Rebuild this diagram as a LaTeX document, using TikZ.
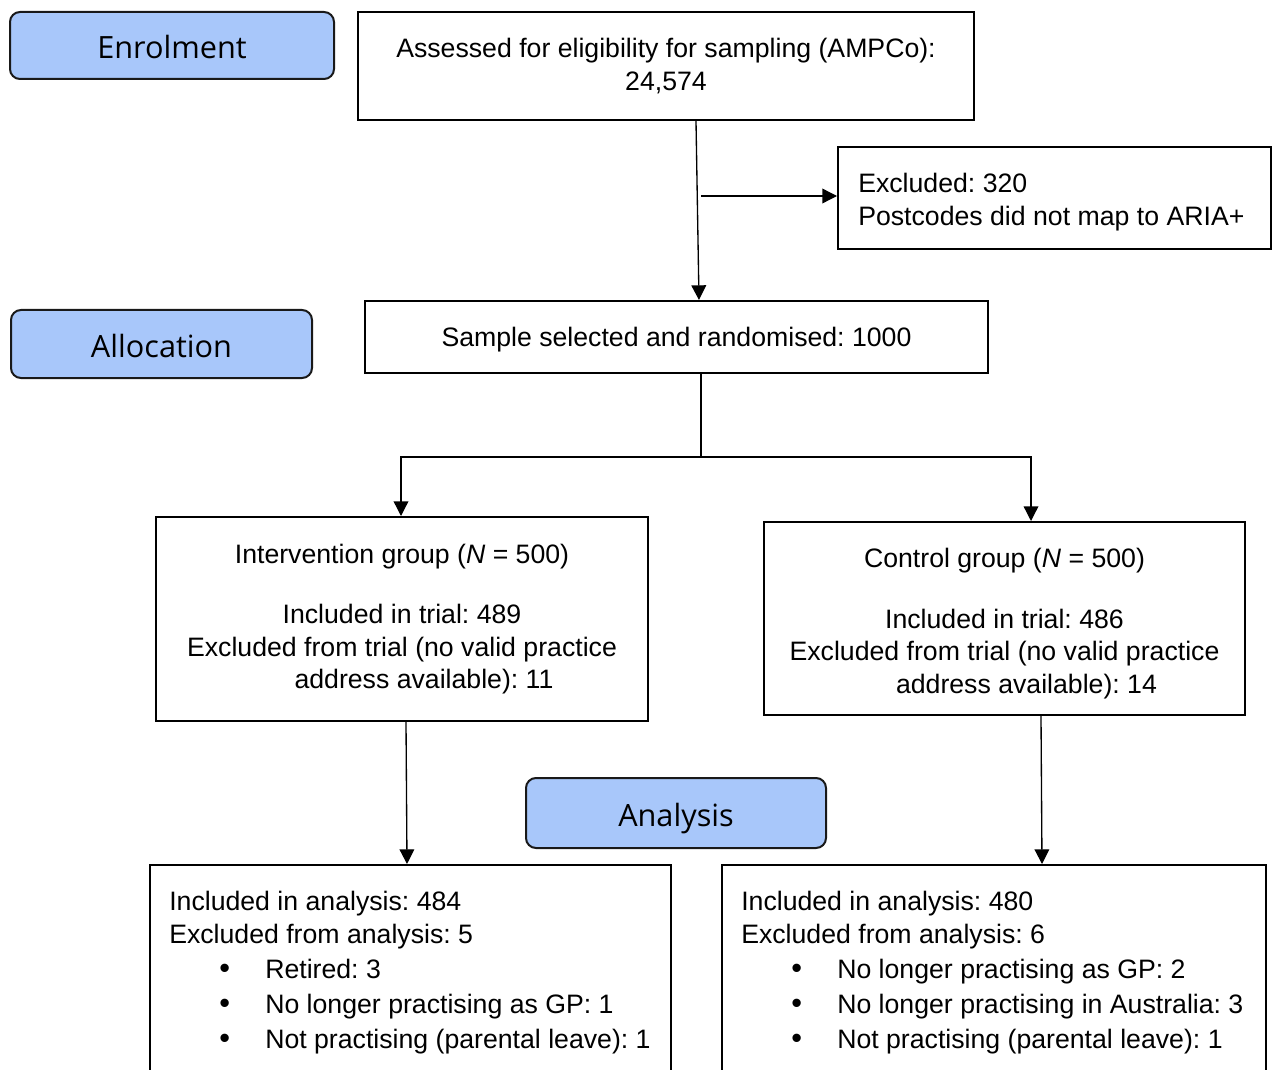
\documentclass[tikz,border=0pt]{standalone}
\usepackage{fontspec}
\setmainfont{Liberation Sans}
\newfontfamily\labelfont{Open Sans}
\usetikzlibrary{calc,arrows.meta}
\definecolor{lblue}{RGB}{168,199,250}
\newcommand{\blt}{\hspace*{37.5pt}\makebox[34.5pt][l]{\fontsize{23}{20}\selectfont •}}
\begin{document}
\frenchspacing
\begin{tikzpicture}[x=0.75pt,y=-0.75pt,
  box/.style={draw=black,line width=1.5pt,inner sep=0pt,align=center,font=\fontsize{20}{24.4}\selectfont},
  phase/.style={draw=black!90,line width=1.5pt,fill=lblue,rounded corners=7.5pt,font=\labelfont\fontsize{23}{28}\selectfont,inner sep=0pt,text height=20.2pt,text depth=0pt},
  txt/.style={inner sep=0pt,align=left,font=\fontsize{20}{24.75}\selectfont},
  arr/.style={line width=1pt,-{Triangle[length=11pt,width=11pt]}},
  conn/.style={line width=1pt}]
\useasboundingbox (0,0) rectangle (1272,1070);
\clip (0,0) rectangle (1272,1070);
\fill[white] (0,0) rectangle (1272,1070);

\node[phase,minimum width=243pt,minimum height=50.25pt] (enrol) at (172,45.5) {Enrolment};
\node[box,minimum width=462pt,minimum height=81pt] (assess) at (666,66) {Assessed for eligibility for sampling (AMPCo):\\24,574};
\node[box,minimum width=324.75pt,minimum height=76.5pt] (excl) at (1054.5,198) {};
\node[txt,anchor=west] (exclt) at ($(excl.west)+(21,4)$) {Excluded: 320\\Postcodes did not map to ARIA+};
\node[phase,minimum width=225.75pt,minimum height=51pt] (alloc) at (161.5,344) {Allocation};
\node[box,minimum width=467.25pt,minimum height=54pt,text height=14.3pt,text depth=0pt] (sample) at (676.5,337) {Sample selected and randomised: 1000};
\node[box,minimum width=369pt,minimum height=153pt] (interv) at (402,619) {Intervention group (\textit{N} = 500)\\[21pt]Included in trial: 489\\Excluded from trial (no valid practice\\\hspace*{33pt}address available): 11};
\node[box,minimum width=360.75pt,minimum height=144.75pt] (ctrl) at (1004.5,618.5) {\rule{0pt}{22.1pt}Control group (\textit{N} = 500)\\[21pt]Included in trial: 486\\Excluded from trial (no valid practice\\\hspace*{33pt}address available): 14};
\node[phase,minimum width=225pt,minimum height=52.5pt] (anal) at (676,813) {Analysis};
\node[box,minimum width=390.75pt,minimum height=180pt,anchor=north] (resL) at (410.5,864) {};
\node[box,minimum width=408pt,minimum height=180pt,anchor=north] (resR) at (994,864) {};

\node[txt,anchor=north west] (resLt) at ($(resL.north west)+(20,26.5)$) {Included in analysis: 484\\
Excluded from analysis: 5\\[1.5pt]
\blt Retired: 3\\[1.5pt]
\blt No longer practising as GP: 1\\[1.5pt]
\blt Not practising (parental leave): 1};
\node[txt,anchor=north west] (resRt) at ($(resR.north west)+(20,26.5)$) {Included in analysis: 480\\
Excluded from analysis: 6\\[1.5pt]
\blt No longer practising as GP: 2\\[1.5pt]
\blt No longer practising in Australia: 3\\[1.5pt]
\blt Not practising (parental leave): 1};

\draw[arr] ($(assess.south)+(30,0)$) -- ($(sample.north)+(22.5,0)$);
\coordinate (sp) at (701,196);
\draw[arr] (sp) -- (sp -| excl.west);
\coordinate (br) at (701,457);
\draw[conn] ($(sample.south)+(24.5,0)$) -- (br);
\draw[arr] (br) -| ($(interv.north)+(-1,0)$);
\draw[arr] (br) -| ($(ctrl.north)+(26.5,0)$);
\draw[arr] ($(interv.south)+(4,0)$) -- ($(resL.north)+(-3.5,0)$);
\draw[arr] ($(ctrl.south)+(36.5,0)$) -- ($(resR.north)+(48,0)$);
\end{tikzpicture}
\end{document}
